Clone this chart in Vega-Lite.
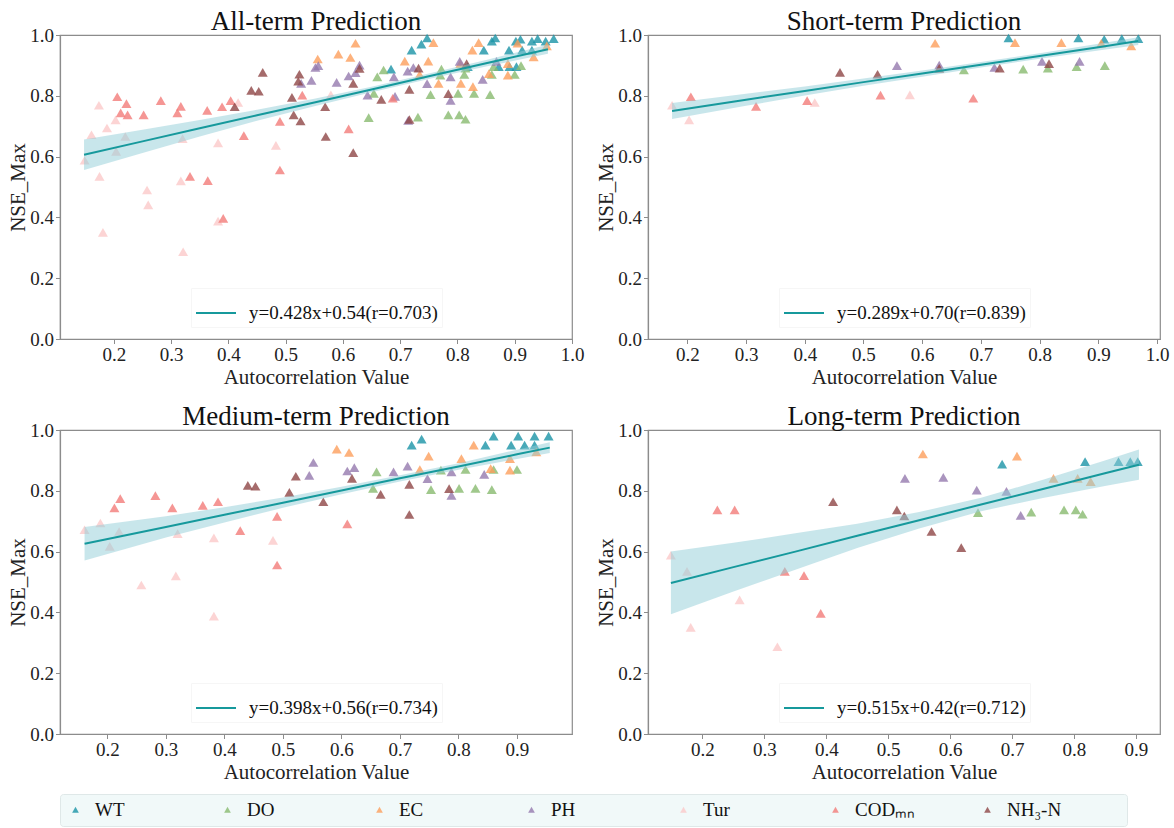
{
  "$schema": "https://vega.github.io/schema/vega-lite/v6.json",
  "background": "white",
  "padding": {"left": 7, "top": 7, "right": 2, "bottom": 2},
  "config": {
    "font": "Liberation Serif",
    "view": {"stroke": "#8c8c8c", "strokeWidth": 1.2},
    "axis": {
      "grid": false,
      "domainColor": "#8c8c8c",
      "domainWidth": 1.2,
      "tickColor": "#8c8c8c",
      "tickSize": 4.5,
      "labelFont": "Liberation Serif",
      "labelFontSize": 19,
      "labelColor": "#222222",
      "labelPadding": 2,
      "labelFlush": false,
      "labelOverlap": false,
      "titleFont": "Liberation Serif",
      "titleFontSize": 21,
      "titleFontWeight": "normal",
      "titleColor": "#222222"
    },
    "axisX": {"titlePadding": 2},
    "axisY": {"titlePadding": 1},
    "title": {"font": "Liberation Serif", "fontSize": 27, "fontWeight": "normal", "color": "#111111", "offset": -10, "baseline": "alphabetic", "frame": "group"}
  },
  "datasets": {
    "pts": [
      {"p":"S","v":"WT","x":0.747,"y":0.990},{"p":"S","v":"WT","x":0.866,"y":0.990},{"p":"S","v":"WT","x":0.910,"y":0.986},{"p":"S","v":"WT","x":0.940,"y":0.988},{"p":"S","v":"WT","x":0.968,"y":0.988},
      {"p":"M","v":"WT","x":0.720,"y":0.950},{"p":"M","v":"WT","x":0.737,"y":0.970},{"p":"M","v":"WT","x":0.846,"y":0.950},{"p":"M","v":"WT","x":0.860,"y":0.980},{"p":"M","v":"WT","x":0.890,"y":0.950},{"p":"M","v":"WT","x":0.902,"y":0.980},{"p":"M","v":"WT","x":0.913,"y":0.950},{"p":"M","v":"WT","x":0.930,"y":0.980},{"p":"M","v":"WT","x":0.930,"y":0.950},{"p":"M","v":"WT","x":0.954,"y":0.980},
      {"p":"L","v":"WT","x":0.684,"y":0.888},{"p":"L","v":"WT","x":0.818,"y":0.896},{"p":"L","v":"WT","x":0.872,"y":0.896},{"p":"L","v":"WT","x":0.891,"y":0.896},{"p":"L","v":"WT","x":0.903,"y":0.896},
      {"p":"S","v":"DO","x":0.671,"y":0.885},{"p":"S","v":"DO","x":0.772,"y":0.888},{"p":"S","v":"DO","x":0.814,"y":0.891},{"p":"S","v":"DO","x":0.863,"y":0.896},{"p":"S","v":"DO","x":0.911,"y":0.899},
      {"p":"M","v":"DO","x":0.654,"y":0.808},{"p":"M","v":"DO","x":0.660,"y":0.862},{"p":"M","v":"DO","x":0.753,"y":0.804},{"p":"M","v":"DO","x":0.770,"y":0.868},{"p":"M","v":"DO","x":0.801,"y":0.808},{"p":"M","v":"DO","x":0.812,"y":0.870},{"p":"M","v":"DO","x":0.829,"y":0.808},{"p":"M","v":"DO","x":0.857,"y":0.804},{"p":"M","v":"DO","x":0.860,"y":0.870},{"p":"M","v":"DO","x":0.900,"y":0.870},
      {"p":"L","v":"DO","x":0.645,"y":0.728},{"p":"L","v":"DO","x":0.731,"y":0.730},{"p":"L","v":"DO","x":0.784,"y":0.737},{"p":"L","v":"DO","x":0.803,"y":0.737},{"p":"L","v":"DO","x":0.814,"y":0.723},
      {"p":"S","v":"EC","x":0.622,"y":0.973},{"p":"S","v":"EC","x":0.758,"y":0.975},{"p":"S","v":"EC","x":0.837,"y":0.975},{"p":"S","v":"EC","x":0.905,"y":0.973},{"p":"S","v":"EC","x":0.956,"y":0.964},
      {"p":"M","v":"EC","x":0.592,"y":0.937},{"p":"M","v":"EC","x":0.613,"y":0.926},{"p":"M","v":"EC","x":0.734,"y":0.870},{"p":"M","v":"EC","x":0.749,"y":0.914},{"p":"M","v":"EC","x":0.805,"y":0.906},{"p":"M","v":"EC","x":0.826,"y":0.950},{"p":"M","v":"EC","x":0.855,"y":0.873},{"p":"M","v":"EC","x":0.888,"y":0.906},{"p":"M","v":"EC","x":0.888,"y":0.868},{"p":"M","v":"EC","x":0.933,"y":0.928},
      {"p":"L","v":"EC","x":0.556,"y":0.921},{"p":"L","v":"EC","x":0.708,"y":0.914},{"p":"L","v":"EC","x":0.767,"y":0.841},{"p":"L","v":"EC","x":0.806,"y":0.841},{"p":"L","v":"EC","x":0.827,"y":0.830},
      {"p":"S","v":"PH","x":0.557,"y":0.899},{"p":"S","v":"PH","x":0.629,"y":0.901},{"p":"S","v":"PH","x":0.723,"y":0.893},{"p":"S","v":"PH","x":0.804,"y":0.913},{"p":"S","v":"PH","x":0.868,"y":0.913},
      {"p":"M","v":"PH","x":0.545,"y":0.851},{"p":"M","v":"PH","x":0.552,"y":0.893},{"p":"M","v":"PH","x":0.610,"y":0.865},{"p":"M","v":"PH","x":0.622,"y":0.876},{"p":"M","v":"PH","x":0.689,"y":0.862},{"p":"M","v":"PH","x":0.713,"y":0.881},{"p":"M","v":"PH","x":0.747,"y":0.840},{"p":"M","v":"PH","x":0.788,"y":0.785},{"p":"M","v":"PH","x":0.788,"y":0.862},{"p":"M","v":"PH","x":0.844,"y":0.854},
      {"p":"L","v":"PH","x":0.527,"y":0.841},{"p":"L","v":"PH","x":0.589,"y":0.844},{"p":"L","v":"PH","x":0.643,"y":0.802},{"p":"L","v":"PH","x":0.691,"y":0.798},{"p":"L","v":"PH","x":0.714,"y":0.719},
      {"p":"S","v":"Tur","x":0.174,"y":0.769},{"p":"S","v":"Tur","x":0.203,"y":0.721},{"p":"S","v":"Tur","x":0.417,"y":0.778},{"p":"S","v":"Tur","x":0.579,"y":0.803},
      {"p":"M","v":"Tur","x":0.161,"y":0.672},{"p":"M","v":"Tur","x":0.188,"y":0.694},{"p":"M","v":"Tur","x":0.204,"y":0.617},{"p":"M","v":"Tur","x":0.220,"y":0.666},{"p":"M","v":"Tur","x":0.258,"y":0.490},{"p":"M","v":"Tur","x":0.317,"y":0.520},{"p":"M","v":"Tur","x":0.320,"y":0.659},{"p":"M","v":"Tur","x":0.382,"y":0.645},{"p":"M","v":"Tur","x":0.382,"y":0.388},{"p":"M","v":"Tur","x":0.483,"y":0.637},
      {"p":"L","v":"Tur","x":0.149,"y":0.588},{"p":"L","v":"Tur","x":0.175,"y":0.535},{"p":"L","v":"Tur","x":0.181,"y":0.351},{"p":"L","v":"Tur","x":0.260,"y":0.441},{"p":"L","v":"Tur","x":0.321,"y":0.287},
      {"p":"S","v":"CODₘₙ","x":0.206,"y":0.797},{"p":"S","v":"CODₘₙ","x":0.317,"y":0.765},{"p":"S","v":"CODₘₙ","x":0.404,"y":0.784},{"p":"S","v":"CODₘₙ","x":0.529,"y":0.802},{"p":"S","v":"CODₘₙ","x":0.687,"y":0.792},
      {"p":"M","v":"CODₘₙ","x":0.212,"y":0.744},{"p":"M","v":"CODₘₙ","x":0.222,"y":0.774},{"p":"M","v":"CODₘₙ","x":0.282,"y":0.784},{"p":"M","v":"CODₘₙ","x":0.311,"y":0.744},{"p":"M","v":"CODₘₙ","x":0.363,"y":0.752},{"p":"M","v":"CODₘₙ","x":0.389,"y":0.764},{"p":"M","v":"CODₘₙ","x":0.427,"y":0.669},{"p":"M","v":"CODₘₙ","x":0.490,"y":0.716},{"p":"M","v":"CODₘₙ","x":0.490,"y":0.556},{"p":"M","v":"CODₘₙ","x":0.610,"y":0.691},
      {"p":"L","v":"CODₘₙ","x":0.224,"y":0.737},{"p":"L","v":"CODₘₙ","x":0.252,"y":0.737},{"p":"L","v":"CODₘₙ","x":0.333,"y":0.535},{"p":"L","v":"CODₘₙ","x":0.364,"y":0.521},{"p":"L","v":"CODₘₙ","x":0.391,"y":0.397},
      {"p":"S","v":"NH₃-N","x":0.460,"y":0.877},{"p":"S","v":"NH₃-N","x":0.524,"y":0.871},{"p":"S","v":"NH₃-N","x":0.629,"y":0.890},{"p":"S","v":"NH₃-N","x":0.732,"y":0.891},{"p":"S","v":"NH₃-N","x":0.816,"y":0.906},
      {"p":"M","v":"NH₃-N","x":0.440,"y":0.818},{"p":"M","v":"NH₃-N","x":0.453,"y":0.815},{"p":"M","v":"NH₃-N","x":0.511,"y":0.795},{"p":"M","v":"NH₃-N","x":0.522,"y":0.848},{"p":"M","v":"NH₃-N","x":0.569,"y":0.764},{"p":"M","v":"NH₃-N","x":0.618,"y":0.841},{"p":"M","v":"NH₃-N","x":0.667,"y":0.788},{"p":"M","v":"NH₃-N","x":0.716,"y":0.821},{"p":"M","v":"NH₃-N","x":0.716,"y":0.722},{"p":"M","v":"NH₃-N","x":0.784,"y":0.807},
      {"p":"L","v":"NH₃-N","x":0.411,"y":0.764},{"p":"L","v":"NH₃-N","x":0.514,"y":0.737},{"p":"L","v":"NH₃-N","x":0.526,"y":0.717},{"p":"L","v":"NH₃-N","x":0.570,"y":0.666},{"p":"L","v":"NH₃-N","x":0.618,"y":0.613}
    ],
    "fit": [
      {"p":"All","eq":"y=0.428x+0.54(r=0.703)","x":0.148,"y":0.606,"lo":0.556,"hi":0.656},
      {"p":"All","eq":"y=0.428x+0.54(r=0.703)","x":0.25,"y":0.650,"lo":0.612,"hi":0.688},
      {"p":"All","eq":"y=0.428x+0.54(r=0.703)","x":0.35,"y":0.693,"lo":0.666,"hi":0.720},
      {"p":"All","eq":"y=0.428x+0.54(r=0.703)","x":0.45,"y":0.736,"lo":0.718,"hi":0.754},
      {"p":"All","eq":"y=0.428x+0.54(r=0.703)","x":0.55,"y":0.778,"lo":0.766,"hi":0.790},
      {"p":"All","eq":"y=0.428x+0.54(r=0.703)","x":0.65,"y":0.821,"lo":0.812,"hi":0.830},
      {"p":"All","eq":"y=0.428x+0.54(r=0.703)","x":0.75,"y":0.864,"lo":0.855,"hi":0.873},
      {"p":"All","eq":"y=0.428x+0.54(r=0.703)","x":0.85,"y":0.907,"lo":0.896,"hi":0.918},
      {"p":"All","eq":"y=0.428x+0.54(r=0.703)","x":0.958,"y":0.953,"lo":0.938,"hi":0.968},
      {"p":"S","eq":"y=0.289x+0.70(r=0.839)","x":0.174,"y":0.750,"lo":0.724,"hi":0.776},
      {"p":"S","eq":"y=0.289x+0.70(r=0.839)","x":0.3,"y":0.787,"lo":0.767,"hi":0.807},
      {"p":"S","eq":"y=0.289x+0.70(r=0.839)","x":0.4,"y":0.816,"lo":0.801,"hi":0.831},
      {"p":"S","eq":"y=0.289x+0.70(r=0.839)","x":0.5,"y":0.845,"lo":0.833,"hi":0.857},
      {"p":"S","eq":"y=0.289x+0.70(r=0.839)","x":0.6,"y":0.873,"lo":0.863,"hi":0.883},
      {"p":"S","eq":"y=0.289x+0.70(r=0.839)","x":0.7,"y":0.902,"lo":0.893,"hi":0.911},
      {"p":"S","eq":"y=0.289x+0.70(r=0.839)","x":0.8,"y":0.931,"lo":0.922,"hi":0.940},
      {"p":"S","eq":"y=0.289x+0.70(r=0.839)","x":0.9,"y":0.960,"lo":0.949,"hi":0.971},
      {"p":"S","eq":"y=0.289x+0.70(r=0.839)","x":0.968,"y":0.980,"lo":0.967,"hi":0.993},
      {"p":"M","eq":"y=0.398x+0.56(r=0.734)","x":0.161,"y":0.626,"lo":0.571,"hi":0.681},
      {"p":"M","eq":"y=0.398x+0.56(r=0.734)","x":0.3,"y":0.681,"lo":0.646,"hi":0.716},
      {"p":"M","eq":"y=0.398x+0.56(r=0.734)","x":0.4,"y":0.721,"lo":0.696,"hi":0.746},
      {"p":"M","eq":"y=0.398x+0.56(r=0.734)","x":0.5,"y":0.761,"lo":0.744,"hi":0.778},
      {"p":"M","eq":"y=0.398x+0.56(r=0.734)","x":0.6,"y":0.801,"lo":0.789,"hi":0.813},
      {"p":"M","eq":"y=0.398x+0.56(r=0.734)","x":0.7,"y":0.841,"lo":0.831,"hi":0.851},
      {"p":"M","eq":"y=0.398x+0.56(r=0.734)","x":0.8,"y":0.880,"lo":0.869,"hi":0.891},
      {"p":"M","eq":"y=0.398x+0.56(r=0.734)","x":0.9,"y":0.920,"lo":0.905,"hi":0.935},
      {"p":"M","eq":"y=0.398x+0.56(r=0.734)","x":0.956,"y":0.942,"lo":0.924,"hi":0.960},
      {"p":"L","eq":"y=0.515x+0.42(r=0.712)","x":0.149,"y":0.497,"lo":0.394,"hi":0.600},
      {"p":"L","eq":"y=0.515x+0.42(r=0.712)","x":0.25,"y":0.549,"lo":0.469,"hi":0.629},
      {"p":"L","eq":"y=0.515x+0.42(r=0.712)","x":0.35,"y":0.600,"lo":0.540,"hi":0.660},
      {"p":"L","eq":"y=0.515x+0.42(r=0.712)","x":0.45,"y":0.652,"lo":0.612,"hi":0.692},
      {"p":"L","eq":"y=0.515x+0.42(r=0.712)","x":0.55,"y":0.703,"lo":0.676,"hi":0.730},
      {"p":"L","eq":"y=0.515x+0.42(r=0.712)","x":0.65,"y":0.755,"lo":0.733,"hi":0.777},
      {"p":"L","eq":"y=0.515x+0.42(r=0.712)","x":0.75,"y":0.806,"lo":0.776,"hi":0.836},
      {"p":"L","eq":"y=0.515x+0.42(r=0.712)","x":0.85,"y":0.858,"lo":0.816,"hi":0.900},
      {"p":"L","eq":"y=0.515x+0.42(r=0.712)","x":0.905,"y":0.886,"lo":0.836,"hi":0.936}
    ]
  },
  "columns": 2,
  "spacing": {"row": 13, "column": 10},
  "resolve": {
    "scale": {"x": "independent", "y": "independent", "color": "shared", "stroke": "independent"},
    "legend": {"stroke": "independent"}
  },
  "concat": [
    {
      "title": "All-term Prediction",
      "width": 512, "height": 304,
      "layer": [
        {
          "data": {"name": "pts"},
          "mark": {"type": "point", "shape": "triangle-up", "filled": true, "size": 100, "opacity": 0.8},
          "encoding": {
            "x": {"field": "x", "type": "quantitative", "scale": {"domain": [0.106, 1.0], "nice": false, "zero": false}, "axis": {"values": [0.2,0.3,0.4,0.5,0.6,0.7,0.8,0.9,1.0], "format": ".1f", "title": "Autocorrelation Value"}},
            "y": {"field": "y", "type": "quantitative", "scale": {"domain": [0, 1.0], "nice": false}, "axis": {"values": [0,0.2,0.4,0.6,0.8,1.0], "format": ".1f", "title": "NSE_Max"}},
            "color": {"field": "v", "type": "nominal", "sort": null,
              "scale": {"domain": ["WT","DO","EC","PH","Tur","CODₘₙ","NH₃-N"], "range": ["#1a93a6","#88ba6f","#fc9f5c","#9579ae","#fbc9c9","#f37c79","#8e4646"]},
              "legend": {"title": " ", "titleOrient": "right", "titlePadding": 60, "titleFontSize": 8, "orient": "none", "legendX": 0, "legendY": 759, "direction": "horizontal", "columns": 7, "gridAlign": "all", "columnPadding": 62, "padding": 6, "fillColor": "#f1f9f9", "strokeColor": "#dfe8e8", "cornerRadius": 3, "symbolType": "triangle-up", "symbolSize": 45, "symbolOpacity": 0.8, "symbolStrokeWidth": 0, "labelFont": "Liberation Serif", "labelFontSize": 19, "labelColor": "#111111", "labelOffset": 10}}
          }
        },
        {
          "data": {"name": "fit"},
          "transform": [{"filter": "datum.p === 'All'"}],
          "mark": {"type": "area", "color": "#91cdd7", "opacity": 0.5},
          "encoding": {"x": {"field": "x", "type": "quantitative"}, "y": {"field": "lo", "type": "quantitative"}, "y2": {"field": "hi"}}
        },
        {
          "data": {"name": "fit"},
          "transform": [{"filter": "datum.p === 'All'"}],
          "mark": {"type": "line", "strokeWidth": 2},
          "encoding": {
            "x": {"field": "x", "type": "quantitative"}, "y": {"field": "y", "type": "quantitative"},
            "stroke": {"field": "eq", "type": "nominal", "scale": {"range": ["#16999c"]}, "legend": {"title": null, "orient": "none", "legendX": 131, "legendY": 253, "symbolType": "stroke", "symbolSize": 1600, "symbolStrokeWidth": 2, "labelFont": "Liberation Serif", "labelFontSize": 19, "labelColor": "#111111", "labelOffset": 12, "labelLimit": 400, "padding": 4, "fillColor": "white", "strokeColor": "#f6f6f6"}}
          }
        }
      ]
    },
    {
      "title": "Short-term Prediction",
      "width": 512, "height": 304,
      "layer": [
        {
          "data": {"name": "pts"},
          "transform": [{"filter": "datum.p === 'S'"}],
          "mark": {"type": "point", "shape": "triangle-up", "filled": true, "size": 100, "opacity": 0.8},
          "encoding": {
            "x": {"field": "x", "type": "quantitative", "scale": {"domain": [0.133, 1.005], "nice": false, "zero": false}, "axis": {"values": [0.2,0.3,0.4,0.5,0.6,0.7,0.8,0.9,1.0], "format": ".1f", "title": "Autocorrelation Value"}},
            "y": {"field": "y", "type": "quantitative", "scale": {"domain": [0, 1.0], "nice": false}, "axis": {"values": [0,0.2,0.4,0.6,0.8,1.0], "format": ".1f", "title": "NSE_Max"}},
            "color": {"field": "v", "type": "nominal", "sort": null}
          }
        },
        {
          "data": {"name": "fit"},
          "transform": [{"filter": "datum.p === 'S'"}],
          "mark": {"type": "area", "color": "#91cdd7", "opacity": 0.5},
          "encoding": {"x": {"field": "x", "type": "quantitative"}, "y": {"field": "lo", "type": "quantitative"}, "y2": {"field": "hi"}}
        },
        {
          "data": {"name": "fit"},
          "transform": [{"filter": "datum.p === 'S'"}],
          "mark": {"type": "line", "strokeWidth": 2},
          "encoding": {
            "x": {"field": "x", "type": "quantitative"}, "y": {"field": "y", "type": "quantitative"},
            "stroke": {"field": "eq", "type": "nominal", "scale": {"range": ["#16999c"]}, "legend": {"title": null, "orient": "none", "legendX": 131, "legendY": 253, "symbolType": "stroke", "symbolSize": 1600, "symbolStrokeWidth": 2, "labelFont": "Liberation Serif", "labelFontSize": 19, "labelColor": "#111111", "labelOffset": 12, "labelLimit": 400, "padding": 4, "fillColor": "white", "strokeColor": "#f6f6f6"}}
          }
        }
      ]
    },
    {
      "title": "Medium-term Prediction",
      "width": 512, "height": 304,
      "layer": [
        {
          "data": {"name": "pts"},
          "transform": [{"filter": "datum.p === 'M'"}],
          "mark": {"type": "point", "shape": "triangle-up", "filled": true, "size": 100, "opacity": 0.8},
          "encoding": {
            "x": {"field": "x", "type": "quantitative", "scale": {"domain": [0.119, 0.994], "nice": false, "zero": false}, "axis": {"values": [0.2,0.3,0.4,0.5,0.6,0.7,0.8,0.9], "format": ".1f", "title": "Autocorrelation Value"}},
            "y": {"field": "y", "type": "quantitative", "scale": {"domain": [0, 1.0], "nice": false}, "axis": {"values": [0,0.2,0.4,0.6,0.8,1.0], "format": ".1f", "title": "NSE_Max"}},
            "color": {"field": "v", "type": "nominal", "sort": null}
          }
        },
        {
          "data": {"name": "fit"},
          "transform": [{"filter": "datum.p === 'M'"}],
          "mark": {"type": "area", "color": "#91cdd7", "opacity": 0.5},
          "encoding": {"x": {"field": "x", "type": "quantitative"}, "y": {"field": "lo", "type": "quantitative"}, "y2": {"field": "hi"}}
        },
        {
          "data": {"name": "fit"},
          "transform": [{"filter": "datum.p === 'M'"}],
          "mark": {"type": "line", "strokeWidth": 2},
          "encoding": {
            "x": {"field": "x", "type": "quantitative"}, "y": {"field": "y", "type": "quantitative"},
            "stroke": {"field": "eq", "type": "nominal", "scale": {"range": ["#16999c"]}, "legend": {"title": null, "orient": "none", "legendX": 131, "legendY": 253, "symbolType": "stroke", "symbolSize": 1600, "symbolStrokeWidth": 2, "labelFont": "Liberation Serif", "labelFontSize": 19, "labelColor": "#111111", "labelOffset": 12, "labelLimit": 400, "padding": 4, "fillColor": "white", "strokeColor": "#f6f6f6"}}
          }
        }
      ]
    },
    {
      "title": "Long-term Prediction",
      "width": 512, "height": 304,
      "layer": [
        {
          "data": {"name": "pts"},
          "transform": [{"filter": "datum.p === 'L'"}],
          "mark": {"type": "point", "shape": "triangle-up", "filled": true, "size": 100, "opacity": 0.8},
          "encoding": {
            "x": {"field": "x", "type": "quantitative", "scale": {"domain": [0.112, 0.939], "nice": false, "zero": false}, "axis": {"values": [0.2,0.3,0.4,0.5,0.6,0.7,0.8,0.9], "format": ".1f", "title": "Autocorrelation Value"}},
            "y": {"field": "y", "type": "quantitative", "scale": {"domain": [0, 1.0], "nice": false}, "axis": {"values": [0,0.2,0.4,0.6,0.8,1.0], "format": ".1f", "title": "NSE_Max"}},
            "color": {"field": "v", "type": "nominal", "sort": null}
          }
        },
        {
          "data": {"name": "fit"},
          "transform": [{"filter": "datum.p === 'L'"}],
          "mark": {"type": "area", "color": "#91cdd7", "opacity": 0.5},
          "encoding": {"x": {"field": "x", "type": "quantitative"}, "y": {"field": "lo", "type": "quantitative"}, "y2": {"field": "hi"}}
        },
        {
          "data": {"name": "fit"},
          "transform": [{"filter": "datum.p === 'L'"}],
          "mark": {"type": "line", "strokeWidth": 2},
          "encoding": {
            "x": {"field": "x", "type": "quantitative"}, "y": {"field": "y", "type": "quantitative"},
            "stroke": {"field": "eq", "type": "nominal", "scale": {"range": ["#16999c"]}, "legend": {"title": null, "orient": "none", "legendX": 131, "legendY": 253, "symbolType": "stroke", "symbolSize": 1600, "symbolStrokeWidth": 2, "labelFont": "Liberation Serif", "labelFontSize": 19, "labelColor": "#111111", "labelOffset": 12, "labelLimit": 400, "padding": 4, "fillColor": "white", "strokeColor": "#f6f6f6"}}
          }
        }
      ]
    }
  ]
}
